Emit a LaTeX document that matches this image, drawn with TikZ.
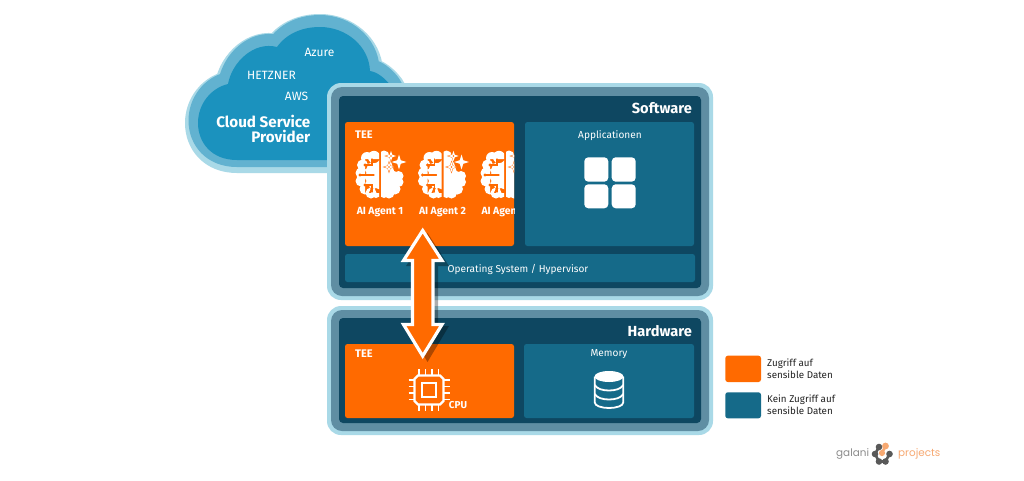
\documentclass[tikz,border=0pt]{standalone}
\usepackage{fontspec}
\setmainfont{Fira Sans}
\newfontfamily\logofont{Poppins}
\definecolor{orng}{HTML}{FF6A00}
\definecolor{darkb}{HTML}{0E4761}
\definecolor{midb}{HTML}{156A89}
\definecolor{ringb}{HTML}{5F8EA3}
\definecolor{paleb}{HTML}{A9D9E7}
\definecolor{cloudb}{HTML}{1B92BE}
\definecolor{cloudm}{HTML}{62B2D0}
\definecolor{inktx}{HTML}{222222}
\definecolor{logog}{HTML}{595959}
\definecolor{logot}{HTML}{8C8C8C}
\definecolor{logoo}{HTML}{F7A972}
\newcommand{\fsz}[1]{\fontsize{#1}{#1}\selectfont}
\newcommand{\cloudpath}{(327,160) -- (237,160)
  .. controls (212,160) and (198,143) .. (198,123)
  .. controls (198,104) and (211,88) .. (228,84)
  .. controls (232,62) and (254,41) .. (277,47)
  .. controls (287,33) and (303,27) .. (320,27)
  .. controls (346,27) and (369,46) .. (370,71)
  .. controls (377,72) and (385,78) .. (391,86)
  -- (405,110) -- (405,160) -- cycle}
\newcommand{\starshape}{(0,-1) -- (.24,-.24) -- (1,0) -- (.24,.24) -- (0,1) -- (-.24,.24) -- (-1,0) -- (-.24,-.24) -- cycle}
\newcommand{\brain}[2]{%
  \begin{scope}[shift={(#1,#2)}]
    \begin{scope}
      \clip (-30,-3) rectangle (-1,52);
      \fill[white] (-6,6) circle (6.2) (-13,7) circle (6) (-17.5,14) circle (5.5) (-19,22) circle (5.5)
        (-19,30) circle (5.5) (-15,38) circle (5.5) (-9,42) circle (5.5) (-4,42) circle (5)
        (-15,8) rectangle (0,42);
    \end{scope}
    \begin{scope}
      \clip (1,-3) rectangle (30,52);
      \fill[white] (4,5) circle (5.5) (18.5,25) circle (5) (18.5,31) circle (5) (15,38) circle (5.5)
        (9,42) circle (5.5) (4,42) circle (5)
        (0,4) -- (9,4) -- (14,20) -- (19,22) -- (19,34) -- (9,42) -- (0,42) -- cycle;
    \end{scope}
    \draw[orng,line width=1.2pt,line cap=round]
      (-19,24) -- (-6,24) (-14,14) -- (-8,14) -- (-8,8)
      (-14,34) -- (-8,34) -- (-8,41);
    \fill[orng] (-20,24) circle (1.6) (-15,14) circle (1.6) (-15,34) circle (1.6);
    \begin{scope}[shift={(11,5)},scale=6.6] \fill[orng] \starshape; \end{scope}
    \begin{scope}[shift={(19,11)},scale=8.8] \fill[orng] \starshape; \end{scope}
    \begin{scope}[shift={(9,16)},scale=6.4] \fill[orng] \starshape; \end{scope}
    \begin{scope}[shift={(11,5)},scale=5.2] \fill[white] \starshape; \end{scope}
    \begin{scope}[shift={(19,11)},scale=7.4] \fill[white] \starshape; \end{scope}
    \begin{scope}[shift={(9,16)},scale=5] \fill[white] \starshape; \end{scope}
    \fill[orng] (11,5) circle (.8) (9,16) circle (.8);
  \end{scope}}
\tikzset{
  x=1pt,y=-1pt,
  boxr/.style={rounded corners=2.5pt},
  tee/.style={fill=orng,boxr},
  mem/.style={fill=midb,boxr},
  lbl/.style={text=white,inner sep=0pt,font=\fsz{10.1}},
  ttl/.style={text=white,inner sep=0pt,font=\fsz{14.6}\bfseries,anchor=east},
  teelbl/.style={text=white,inner sep=0pt,font=\fsz{11}\bfseries,anchor=west},
  agent/.style={text=white,inner sep=0pt,font=\fsz{10.4}\bfseries},
  cloudtx/.style={text=white,inner sep=0pt,font=\fsz{12}},
  legendtx/.style={text=inktx,inner sep=0pt,font=\fsz{9.8},anchor=west},
  blockarrow/.style={line width=3.2pt,miter limit=10,line join=miter},
}
\begin{document}
\begin{tikzpicture}
\useasboundingbox (0,0) rectangle (1024,480);
\fill[white] (0,0) rectangle (1024,480);
% cloud
\draw[paleb,line width=26pt,line join=round,fill=paleb] \cloudpath;
\begin{scope}[yshift=2.5pt]
\draw[cloudm,line width=19pt,line join=round,fill=cloudm] \cloudpath;
\end{scope}
\fill[cloudb] \cloudpath;
\node[cloudtx] (azure) at (319.5,52) {Azure};
\node[cloudtx] (hetzner) at (271.5,75) {HETZNER};
\node[cloudtx] (aws) at (296.5,96.5) {AWS};
\node[text=white,inner sep=0pt,font=\fsz{15.2}\bfseries,anchor=east] (csp1) at (310.5,121) {Cloud Service};
\node[text=white,inner sep=0pt,font=\fsz{15.2}\bfseries,anchor=east] (csp2) at (310.5,136) {Provider};
% software panel
\fill[paleb,rounded corners=14pt] (327,83) rectangle (713,300);
\fill[ringb,rounded corners=11pt] (331,87) rectangle (709,296);
\fill[darkb,rounded corners=4pt] (339,96) rectangle (701,288);
\node[ttl] (sw) at (692,108) {Software};
\fill[tee] (345,122) rectangle (514,246);
\node[teelbl] (tee1) at (355,135) {TEE};
\brain{380}{151}
\brain{442.5}{151}
\begin{scope}
  \clip (345,122) rectangle (514,246);
  \brain{505}{151}
  \node[agent] (ag3) at (505,212) {AI Agent 3};
\end{scope}
\node[agent] (ag1) at (380,212) {AI Agent 1};
\node[agent] (ag2) at (442.5,212) {AI Agent 2};
\fill[mem] (525,122) rectangle (694,246);
\node[lbl] (app) at (610,135.5) {Applicationen};
\fill[white,rounded corners=4pt] (584.3,157.3) rectangle (608.3,181.7);
\fill[white,rounded corners=4pt] (611.7,157.3) rectangle (635.7,181.7);
\fill[white,rounded corners=4pt] (584.3,184.3) rectangle (608.3,208.3);
\fill[white,rounded corners=4pt] (611.7,184.3) rectangle (635.7,208.3);
\fill[mem] (345,254) rectangle (695,282);
\node[lbl] (os) at (518,269) {Operating System / Hypervisor};
% hardware panel
\fill[paleb,rounded corners=14pt] (327,306) rectangle (713,435);
\fill[ringb,rounded corners=11pt] (331,310) rectangle (709,431);
\fill[darkb,rounded corners=4pt] (339,318) rectangle (701,423);
\node[ttl] (hw) at (692,331) {Hardware};
\fill[tee] (345,344) rectangle (514,418);
\node[teelbl] (tee2) at (355,353.5) {TEE};
\fill[mem] (524,344) rectangle (694,418);
\node[lbl] (memlbl) at (609,354) {Memory};
% cpu icon
\draw[white,line width=2.4pt] (418,375.5) -- (440,375.5) -- (443.5,379) -- (443.5,401) -- (440,404.5) -- (418,404.5) -- (414.5,401) -- (414.5,379) -- cycle;
\draw[white,line width=2.4pt] (422,383) rectangle (436,397);
\draw[white,line width=1.8pt]
  (419,369) -- (419,375) (425.5,369) -- (425.5,375) (432,369) -- (432,375) (438.5,369) -- (438.5,375)
  (419,405) -- (419,410.5) (425.5,405) -- (425.5,410.5) (432,405) -- (432,410.5) (438.5,405) -- (438.5,410.5)
  (408.5,380) -- (414,380) (408.5,386.5) -- (414,386.5) (408.5,393) -- (414,393) (408.5,399.5) -- (414,399.5)
  (444,380) -- (450,380) (444,386.5) -- (450,386.5) (444,393) -- (450,393) (444,399.5) -- (450,399.5);
\node[text=white,inner sep=0pt,font=\fsz{10}\bfseries] (cpu) at (458,405) {CPU};
% database icon
\fill[white] (609,376.5) ellipse (14.5 and 5.5);
\draw[white,line width=1.8pt] (594.8,376.5) -- (594.8,402.5) .. controls (594.8,406) and (602,408) .. (609,408) .. controls (616,408) and (623.2,406) .. (623.2,402.5) -- (623.2,376.5);
\draw[white,line width=1.8pt] (594.8,385) .. controls (597,389) and (603,390.5) .. (609,390.5) .. controls (615,390.5) and (621,389) .. (623.2,385);
\draw[white,line width=1.8pt] (594.8,394) .. controls (597,398) and (603,399.5) .. (609,399.5) .. controls (615,399.5) and (621,398) .. (623.2,394);
% block arrow
\fill[black,opacity=.32] (427.5,233) -- (449,266) -- (438,266) -- (438,326) -- (449,326) -- (427.5,362) -- (406,326) -- (417,326) -- (417,266) -- (406,266) -- cycle;
\draw[white,fill=orng,blockarrow] (422.7,230.5) -- (442,260.5) -- (433,260.5) -- (433,324.5) -- (442,324.5) -- (422.7,356) -- (403.5,324.5) -- (412.5,324.5) -- (412.5,260.5) -- (403.5,260.5) -- cycle;
% legend
\fill[orng,rounded corners=2.5pt] (725.3,355.7) rectangle (761,382);
\fill[midb,rounded corners=2.5pt] (725.3,392.3) rectangle (761,418.3);
\node[legendtx] (l1) at (767,364) {Zugriff auf};
\node[legendtx] (l2) at (767,375) {sensible Daten};
\node[legendtx] (l3) at (767,400) {Kein Zugriff auf};
\node[legendtx] (l4) at (767,411) {sensible Daten};
% logo
\node[text=logot,inner sep=0pt,font=\fsz{10.4}\logofont,anchor=west] (galani) at (836,454) {galani};
\node[text=logoo,inner sep=0pt,font=\fsz{10.4}\logofont,anchor=west] (proj) at (898,454) {projects};
\draw[logog,line width=2.6pt] (875,454) -- (879,447) (875,454) -- (879,461.5) -- (885.5,461.5) -- (889.5,454);
\fill[logog] (875,454) circle (3.3) (879,447) circle (3.3) (879,461.5) circle (3.3) (885.5,461.5) circle (3.3) (889.5,454) circle (3.3);
\draw[logoo,line width=2.6pt] (885.5,446) -- (882,453);
\fill[logoo] (885.5,446) circle (3.4) (882,453) circle (3.1);
\end{tikzpicture}
\end{document}
